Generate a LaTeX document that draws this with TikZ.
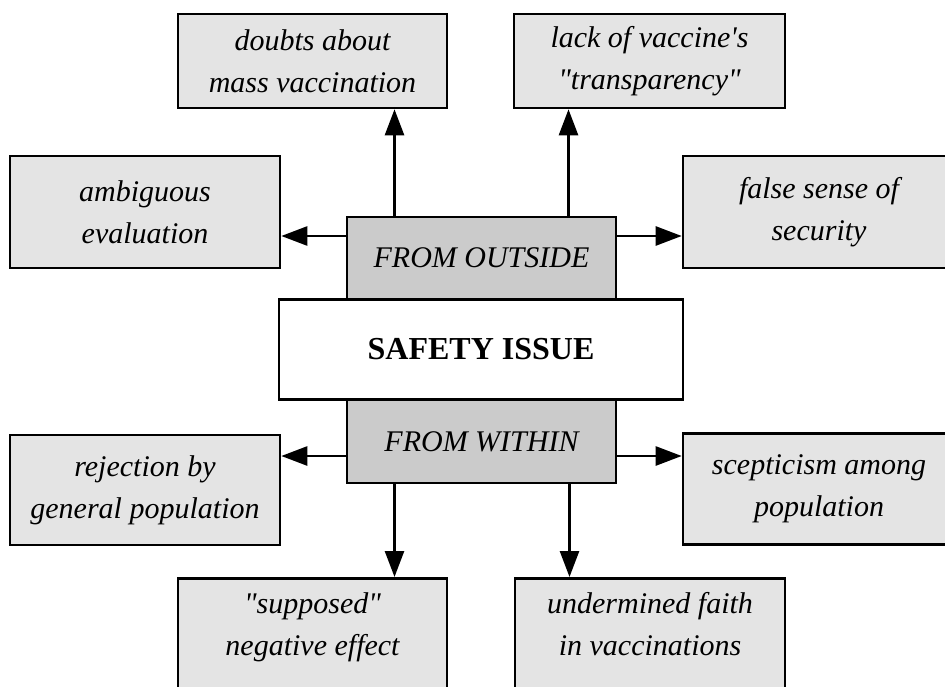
\documentclass[tikz,border=0pt]{standalone}
\usepackage{fontspec}
\setmainfont{Liberation Serif}[Ligatures=TeXOff]
\usetikzlibrary{arrows.meta}
\definecolor{outerfill}{HTML}{E4E4E4}
\definecolor{midfill}{HTML}{CBCBCB}
\newcommand{\dq}{\char34\relax}
\newcommand{\sq}{\char39\relax}
\tikzset{
  box/.style={draw=black, line width=2.6pt, inner sep=0pt, align=center},
  outerbox/.style={box, fill=outerfill, font=\fontsize{30}{42}\selectfont\itshape},
  midbox/.style={box, fill=midfill, font=\fontsize{30}{36}\selectfont\itshape},
  corebox/.style={box, fill=white, font=\fontsize{32}{38}\selectfont\bfseries},
  txt/.style={inner sep=0pt, align=center, font=\fontsize{30}{42}\selectfont\itshape},
  arr/.style={line width=2.6pt, -{Triangle[length=26pt,width=19pt]}}
}
\begin{document}
\begin{tikzpicture}[x=1pt,y=-1pt]
\clip (0,0) rectangle (945,687);
\fill[white] (0,0) rectangle (945,687);
% outer boxes
\node[outerbox, minimum width=269pt, minimum height=94pt] (doubts) at (312.5,61) {doubts about\\mass vaccination};
\node[outerbox, minimum width=271pt, minimum height=94pt] (lack) at (649.5,61) {lack of vaccine\sq s\\\dq transparency\dq};
\node[outerbox, minimum width=270pt, minimum height=112pt] (amb) at (145,212) {ambiguous\\evaluation};
\node[outerbox, minimum width=272pt, minimum height=112pt] (false) at (819,212) {false sense of\\security};
\node[outerbox, minimum width=270pt, minimum height=110pt] (rej) at (145,490) {rejection by\\general population};
\node[outerbox, minimum width=272pt, minimum height=111pt] (scep) at (819,489) {scepticism among\\population};
\node[outerbox, minimum width=269pt, minimum height=140pt, anchor=north,
  label={[txt, anchor=north, yshift=-15pt]north:{\dq supposed\dq\\negative effect}}] (supp) at (312.5,577) {};
\node[outerbox, minimum width=270pt, minimum height=140pt, anchor=north,
  label={[txt, anchor=north, yshift=-15pt]north:{undermined faith\\in vaccinations}}] (under) at (650,577) {};
% centre
\node[midbox, minimum width=269pt, minimum height=82pt] (out) at (481.5,258) {FROM OUTSIDE};
\node[midbox, minimum width=269pt, minimum height=83pt] (within) at (481.5,441.5) {FROM WITHIN};
\node[corebox, minimum width=404pt, minimum height=100pt] (core) at (481,349.5) {SAFETY ISSUE};
% arrows
\draw[arr] ([xshift=-87pt]out.north) -- ([xshift=-87pt]out.north |- doubts.south);
\draw[arr] ([xshift=87pt]out.north) -- ([xshift=87pt]out.north |- lack.south);
\draw[arr] ([yshift=22pt]out.west) -- ([yshift=22pt]out.west -| amb.east);
\draw[arr] ([yshift=22pt]out.east) -- ([yshift=22pt]out.east -| false.west);
\draw[arr] ([yshift=-14.5pt]within.west) -- ([yshift=-14.5pt]within.west -| rej.east);
\draw[arr] ([yshift=-14.5pt]within.east) -- ([yshift=-14.5pt]within.east -| scep.west);
\draw[arr] ([xshift=-87pt]within.south) -- ([xshift=-87pt]within.south |- supp.north);
\draw[arr] ([xshift=88pt]within.south) -- ([xshift=88pt]within.south |- under.north);
\end{tikzpicture}
\end{document}
